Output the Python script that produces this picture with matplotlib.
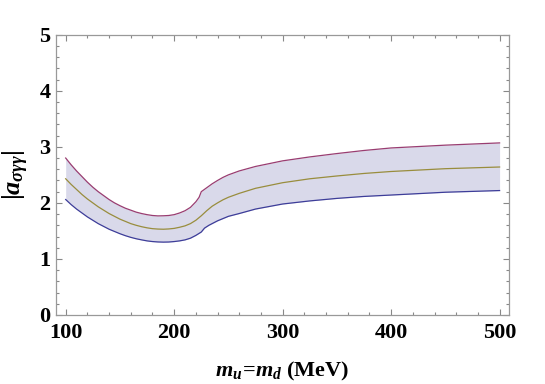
import numpy as np
import matplotlib
matplotlib.use("Agg")
import matplotlib.pyplot as plt
from matplotlib.ticker import MultipleLocator

# data
x_upper = [100, 105, 110, 115, 120, 125, 130, 135, 140, 145, 150, 155, 160, 165, 170, 175, 180, 185,
           190, 195, 200, 205, 210, 215, 220, 223, 225,
           230, 235, 240, 245, 250, 260, 275, 300, 325, 350, 375, 400, 450, 500]
y_upper = [2.80, 2.68, 2.57, 2.47, 2.37, 2.28, 2.20, 2.13, 2.06, 2.00, 1.95, 1.905, 1.87, 1.835, 1.81, 1.79, 1.775, 1.768,
           1.77, 1.775, 1.79, 1.82, 1.86, 1.92, 2.02, 2.10, 2.20,
           2.27, 2.34, 2.40, 2.455, 2.50, 2.57, 2.65, 2.75, 2.82, 2.88, 2.935, 2.98, 3.03, 3.07]

x_mid = [100, 105, 110, 115, 120, 125, 130, 135, 140, 145, 150, 155, 160, 165, 170, 175, 180, 185,
         190, 195, 200, 205, 210, 215, 220, 225,
         230, 235, 240, 245, 250, 260, 275, 300, 325, 350, 375, 400, 450, 500]
y_mid = [2.43, 2.33, 2.24, 2.15, 2.07, 2.00, 1.93, 1.87, 1.81, 1.76, 1.71, 1.67, 1.63, 1.60, 1.575, 1.555, 1.54, 1.533,
         1.53, 1.535, 1.545, 1.565, 1.59, 1.63, 1.69, 1.77,
         1.86, 1.94, 2.00, 2.055, 2.10, 2.17, 2.26, 2.36, 2.43, 2.48, 2.525, 2.56, 2.61, 2.64]

x_lower = [100, 105, 110, 115, 120, 125, 130, 135, 140, 145, 150, 155, 160, 165, 170, 175, 180, 185,
           190, 195, 200, 205, 210, 215, 220, 225,
           228, 232, 236, 240, 245, 250, 260, 275, 300, 325, 350, 375, 400, 450, 500]
y_lower = [2.06, 1.97, 1.89, 1.82, 1.75, 1.69, 1.63, 1.58, 1.53, 1.49, 1.45, 1.415, 1.385, 1.36, 1.34, 1.322, 1.31, 1.303,
           1.30, 1.302, 1.31, 1.322, 1.34, 1.37, 1.42, 1.48,
           1.55, 1.60, 1.64, 1.68, 1.72, 1.76, 1.81, 1.89, 1.98, 2.035, 2.08, 2.115, 2.14, 2.19, 2.22]

x_ticks = [100, 200, 300, 400, 500]
y_ticks = [0, 1, 2, 3, 4, 5]

plt.rcParams['mathtext.fontset'] = 'custom'
plt.rcParams['mathtext.rm'] = 'Liberation Serif:bold'
plt.rcParams['mathtext.it'] = 'Liberation Serif:bold:italic'
plt.rcParams['mathtext.bf'] = 'Liberation Serif:bold'

fig = plt.figure(figsize=(5.45, 3.84), dpi=100)
ax = fig.add_axes([0.1028, 0.1797, 0.831, 0.7299])

xf = np.linspace(100, 500, 801)
up_f = np.interp(xf, x_upper, y_upper)
lo_f = np.interp(xf, x_lower, y_lower)
ax.fill_between(xf, lo_f, up_f, color='#d9d9ea', lw=0)

ax.plot(x_upper, y_upper, color='#993d71', lw=0.9)
ax.plot(x_mid, y_mid, color='#998d3d', lw=0.9)
ax.plot(x_lower, y_lower, color='#3d3d99', lw=0.9)

ax.set_xlim(91.1, 508.6)
ax.set_ylim(0, 5)
ax.set_xticks(x_ticks)
ax.set_yticks(y_ticks)
ax.xaxis.set_minor_locator(MultipleLocator(20))
ax.yaxis.set_minor_locator(MultipleLocator(0.2))
ax.tick_params(which='both', direction='in', top=True, right=True, color='#888888', width=0.8)
ax.tick_params(which='major', length=4)
ax.tick_params(which='minor', length=2.2)
ax.tick_params(axis='both', labelsize=16)
ax.tick_params(axis='x', pad=6)
ax.tick_params(axis='y', pad=4)
for lab in ax.get_xticklabels() + ax.get_yticklabels():
    lab.set_fontfamily('Liberation Serif')
    lab.set_fontweight('bold')
for s in ax.spines.values():
    s.set_color('#999999')
    s.set_linewidth(0.9)

ax.set_xlabel(r'$m_u\!=\!m_d$ (MeV)', fontsize=16, fontfamily='Liberation Serif',
              fontweight='bold', labelpad=12)
ax.set_ylabel(r'$|a_{\sigma\gamma\gamma}|$', fontsize=19, labelpad=6)

fig.savefig('out.png', dpi=100)
